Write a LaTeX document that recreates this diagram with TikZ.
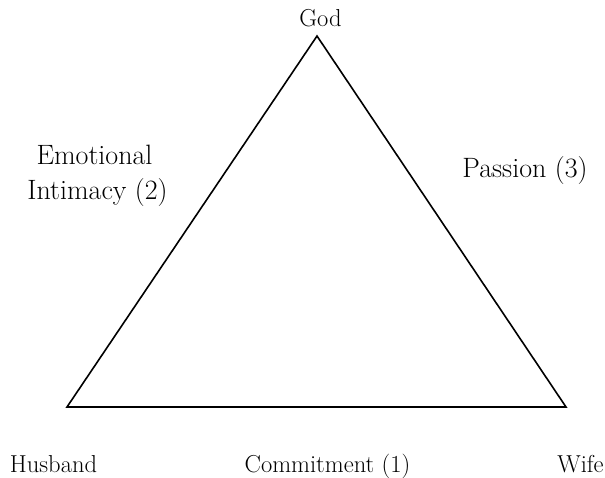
\documentclass[tikz,border=0pt]{standalone}
\begin{document}
\begin{tikzpicture}[x=1pt,y=-1pt,
  lbl/.style={anchor=base,inner sep=0pt,font=\fontsize{24.5}{28}\selectfont},
  side/.style={anchor=base,inner sep=0pt,font=\fontsize{28}{31}\selectfont},
  edge/.style={line width=1.6pt,line join=miter}]
\useasboundingbox (0,0) rectangle (605,478);
\coordinate (apex) at (317,36);
\coordinate (bl) at (67,407);
\coordinate (br) at (566,407);
\draw[edge] (apex) -- (bl) -- (br) -- cycle;
\node[lbl] (god) at (320.5,27) {God};
\node[side] (emo) at (94.5,165) {Emotional};
\node[side] (inti) at (97.5,200) {Intimacy (2)};
\node[side] (pas) at (525,178) {Passion (3)};
\node[lbl] (hus) at (53.5,472) {Husband};
\node[lbl] (com) at (327.5,472) {Commitment (1)};
\node[lbl] (wife) at (580.5,472) {Wife};
\end{tikzpicture}
\end{document}
